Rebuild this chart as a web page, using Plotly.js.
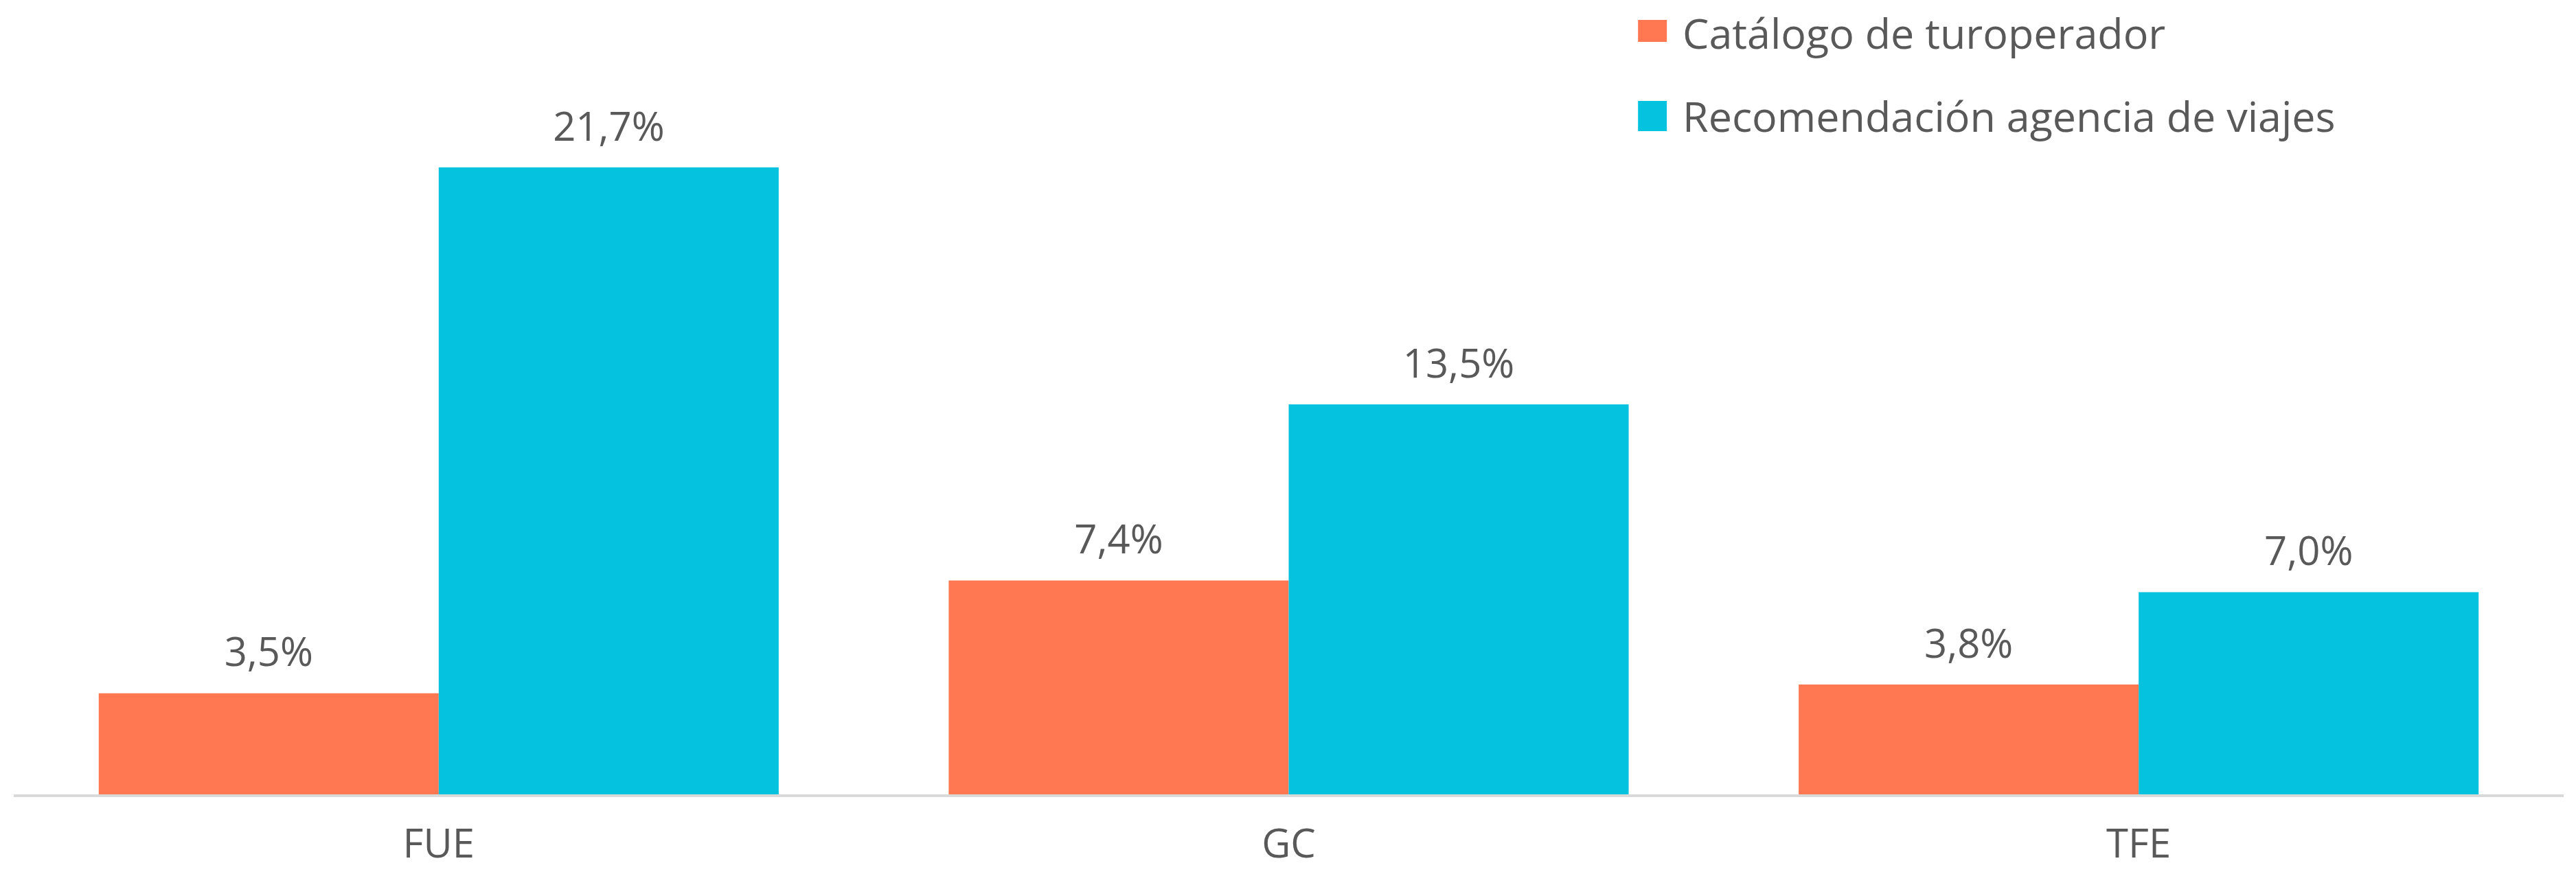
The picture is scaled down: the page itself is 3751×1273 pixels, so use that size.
<!DOCTYPE html>
<html>
<head>
<meta charset="utf-8">
<script src="https://cdn.plot.ly/plotly-3.0.1.min.js"></script>
<style>html,body{margin:0;padding:0;background:#fff;}</style>
</head>
<body>
<div id="chart" style="width:3751px;height:1273px;"></div>
<script>
const categories = ["FUE", "GC", "TFE"];
const seriesNames = ["Catálogo de turoperador", "Recomendación agencia de viajes"];
const catalogoValues = [3.5, 7.4, 3.8];
const recomendacionValues = [21.7, 13.5, 7.0];
const seriesColors = ["#FF7852", "#05C3DE"];

const FONT = "'Open Sans', 'Noto Sans', sans-serif";
const TXT = "#595959";

function barTrace(name, values, color, grp) {
  return {
    type: "bar",
    name: name,
    x: categories,
    y: values,
    offsetgroup: grp,
    marker: {color: color, line: {width: 0}},
    hoverinfo: "none"
  };
}

function labelTrace(name, values, grp) {
  return {
    type: "scatter",
    mode: "markers+text",
    name: name,
    x: categories,
    y: values,
    offsetgroup: grp,
    marker: {size: 38, color: "rgba(0,0,0,0)", line: {width: 0}},
    text: values.map(function(v){ return v.toFixed(1).replace(".", ",") + "%"; }),
    textposition: "top center",
    textfont: {family: FONT, size: 58, color: TXT},
    cliponaxis: false,
    hoverinfo: "none"
  };
}

const data = [
  barTrace(seriesNames[0], catalogoValues, seriesColors[0], "a"),
  barTrace(seriesNames[1], recomendacionValues, seriesColors[1], "b"),
  labelTrace(seriesNames[0], catalogoValues, "a"),
  labelTrace(seriesNames[1], recomendacionValues, "b")
];

// custom legend (large square swatches)
const legY = [[1.0722, 1.0418], [0.9601, 0.9183]];
const legTextY = [1.0542, 0.9401];
const shapes = [];
const annotations = [];
seriesNames.forEach(function(n, i) {
  shapes.push({type: "rect", xref: "paper", yref: "paper",
    x0: 0.6370, x1: 0.6483, y0: legY[i][1], y1: legY[i][0],
    fillcolor: seriesColors[i], line: {width: 0}});
  annotations.push({xref: "paper", yref: "paper", x: 0.6539, y: legTextY[i],
    xanchor: "left", yanchor: "middle", showarrow: false, text: n,
    font: {family: FONT, size: 61, color: TXT}});
});

const layout = {
  width: 3751,
  height: 1273,
  margin: {l: 20, r: 18, t: 105, b: 116},
  paper_bgcolor: "#ffffff",
  plot_bgcolor: "#ffffff",
  separators: ",.",
  barmode: "group",
  bargap: 0.2,
  bargroupgap: 0,
  scattermode: "group",
  scattergap: 0.2,
  showlegend: false,
  font: {family: FONT, color: TXT},
  xaxis: {
    type: "category",
    showline: true,
    linecolor: "#D9D9D9",
    linewidth: 4,
    showgrid: false,
    zeroline: false,
    ticks: "",
    tickfont: {family: FONT, size: 58, color: TXT},
    ticklabelstandoff: 18
  },
  yaxis: {
    range: [0, 25],
    visible: false,
    showgrid: false,
    zeroline: false
  },
  shapes: shapes,
  annotations: annotations
};

Plotly.newPlot("chart", data, layout, {displayModeBar: false, staticPlot: true});
</script>
</body>
</html>
